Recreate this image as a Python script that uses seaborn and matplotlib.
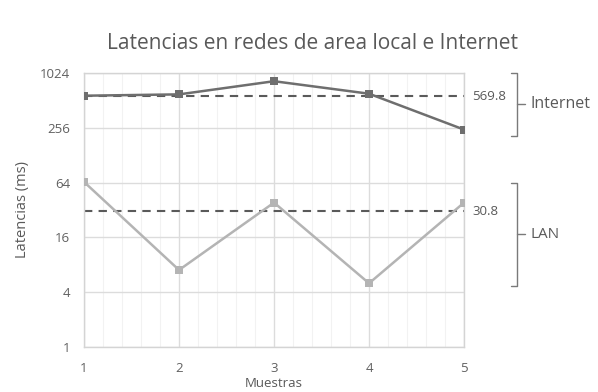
import numpy as np
import pandas as pd
import matplotlib
matplotlib.use("Agg")
import matplotlib.pyplot as plt
import seaborn as sns
from matplotlib.ticker import FixedLocator, MultipleLocator, NullFormatter

# Latency samples (ms)
muestras = [1, 2, 3, 4, 5]
internet = [575, 595, 830, 605, 244]
lan = [65, 7, 38.5, 5, 38.5]
series = ["Internet", "LAN"]
y_ticks = [1, 4, 16, 64, 256, 1024]

sns.set_theme(style="white")
plt.rcParams["font.family"] = ["Open Sans", "DejaVu Sans"]

df = pd.DataFrame({
    "Muestras": muestras * 2,
    "Latencia": internet + lan,
    "Red": [series[0]] * len(internet) + [series[1]] * len(lan),
})

fig = plt.figure(figsize=(5.98, 3.92), dpi=100)
ax = fig.add_axes([0.1405, 0.115, 0.776 - 0.1405, 0.814 - 0.115])

palette = {"Internet": "#6e6e6e", "LAN": "#b4b4b4"}
sns.lineplot(data=df, x="Muestras", y="Latencia", hue="Red", palette=palette,
             marker="s", markersize=6, markeredgewidth=0, linewidth=1.8,
             legend=False, ax=ax, zorder=3)

ax.set_yscale("log", base=2)
ax.set_ylim(1, 1024)
ax.set_xlim(1, 5)
ax.yaxis.set_major_locator(FixedLocator(y_ticks))
ax.set_yticklabels([str(t) for t in y_ticks])
ax.yaxis.set_minor_formatter(NullFormatter())
ax.yaxis.set_minor_locator(FixedLocator([]))
ax.set_xticks(muestras)
ax.xaxis.set_minor_locator(MultipleLocator(0.2))

ax.grid(which="major", color="#dcdcdc", linewidth=1.0)
ax.grid(which="minor", axis="x", color="#f2f2f2", linewidth=0.8)
ax.set_axisbelow(True)
for s in ax.spines.values():
    s.set_color("#d4d4d4")
    s.set_linewidth(1.0)

ax.tick_params(axis="both", which="both", length=0, labelsize=9.5,
               labelcolor="#606060")
ax.tick_params(axis="x", pad=11)
ax.tick_params(axis="y", pad=10)

ax.set_xlabel("Muestras", fontsize=9.5, color="#595959", labelpad=1)
ax.set_ylabel("Latencias (ms)", fontsize=10.5, color="#595959", labelpad=7)

# Mean lines with their values
for vals in (internet, lan):
    m = float(np.mean(vals))
    ax.plot([muestras[0], muestras[-1]], [m, m], color="#5a5a5a", linewidth=1.5,
            linestyle=(0, (4, 3)), zorder=2)
    ax.annotate(f"{m:.1f}", xy=(muestras[-1], m), xytext=(6, 0),
                textcoords="offset points", va="center", ha="left",
                fontsize=9.5, color="#595959", annotation_clip=False)

# Brackets grouping each series
def bracket(y0, y1, label, size):
    trans = ax.get_yaxis_transform()
    xb = 1.139
    ends = 0.016
    ax.plot([xb - ends, xb, xb, xb - ends], [y0, y0, y1, y1], transform=trans,
            color="#7a7a7a", linewidth=1.0, clip_on=False)
    ym = np.sqrt(y0 * y1)
    ax.plot([xb, xb + 0.022], [ym, ym], transform=trans, color="#7a7a7a",
            linewidth=1.0, clip_on=False)
    ax.text(xb + 0.035, ym, label, transform=trans, va="center", ha="left",
            fontsize=size, color="#595959")

bracket(1024, 210, "Internet", 11.5)
bracket(64, 4.7, "LAN", 11)

fig.text(0.523, 0.89, "Latencias en redes de area local e Internet",
         ha="center", va="center", fontsize=15, color="#595959")

fig.savefig("out.png", dpi=100)
